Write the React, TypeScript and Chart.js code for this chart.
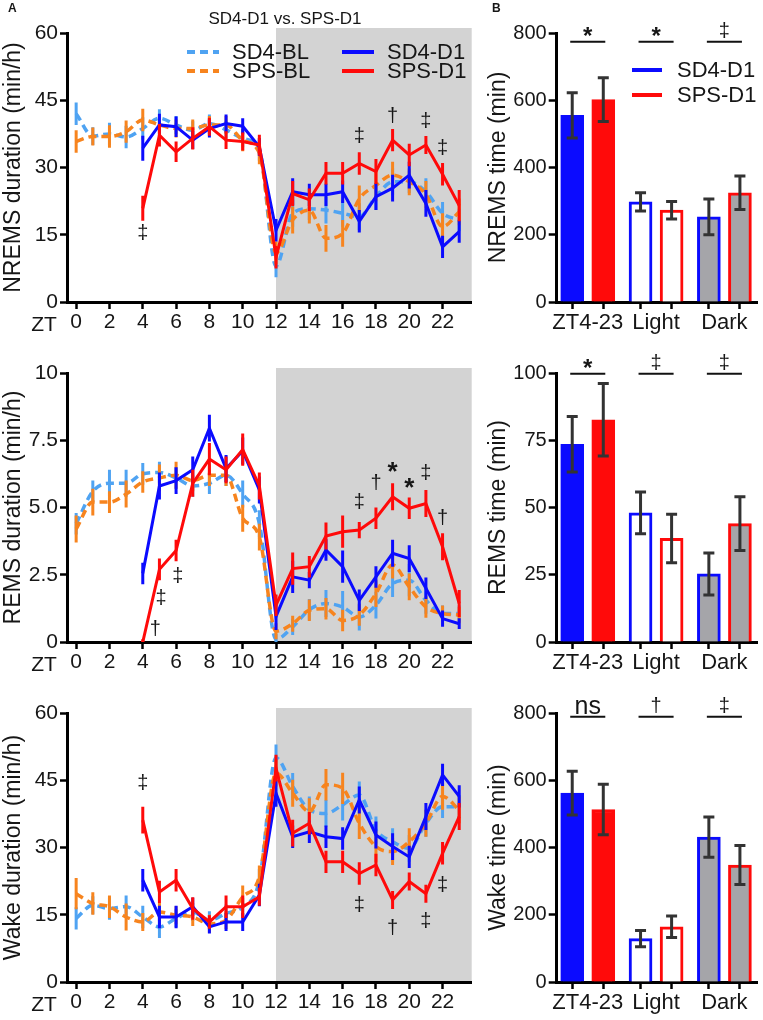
import React, { useEffect, useRef } from 'react';
import { Chart, registerables } from 'chart.js';

Chart.register(...registerables);

const FONT = "'Liberation Sans', Arial, Helvetica, sans-serif";
const BLUE = '#0b0bff';
const RED = '#ff0a0a';
const LBLUE = '#4fa3f2';
const ORANGE = '#f7841e';
const BAND = '#d3d3d3';
const BARGREY = '#a5a5a9';
const ERRGREY = '#333333';
const TEXT = '#161616';

// ---------- hourly data (ZT 0..23) ----------
const hours = [0, 1, 2, 3, 4, 5, 6, 7, 8, 9, 10, 11, 12, 13, 14, 15, 16, 17, 18, 19, 20, 21, 22, 23];
const xTickValues = [0, 2, 4, 6, 8, 10, 12, 14, 16, 18, 20, 22];

// NREMS duration (min/h)
const nremsSD4BL = [42.0, 37.0, 37.5, 36.8, 38.7, 41.0, 39.5, 38.3, 39.8, 38.4, 36.5, 34.0, 8.0, 19.8, 20.8, 20.5, 19.8, 19.0, 23.5, 26.8, 26.8, 24.6, 19.8, 18.3];
const nremsSD4BLErr = [2.5, 2, 2.5, 2.5, 2.5, 2, 2, 2, 2, 2, 2, 2.5, 2.5, 3, 2.5, 3, 3, 3, 3, 3, 2.5, 3, 2.5, 2.5];
const nremsSPSBL = [35.8, 36.9, 36.9, 38.0, 40.6, 39.5, 38.7, 38.7, 39.5, 39.5, 36.1, 33.2, 11.0, 18.3, 20.5, 14.2, 15.3, 23.0, 26.0, 28.3, 26.8, 24.0, 16.8, 20.1];
const nremsSPSBLErr = [2.5, 2, 2.5, 2.5, 2.5, 2, 2, 2, 2, 2, 2.5, 2.5, 2.5, 3, 3, 3, 3, 3, 3.5, 3, 3, 3, 3, 3];
const nremsSD4D1 = [null, null, null, null, 34.3, 39.5, 39.1, 36.1, 38.7, 39.8, 39.2, 34.6, 16.0, 24.6, 23.9, 23.9, 24.6, 18.0, 23.5, 25.4, 28.3, 22.0, 12.3, 15.7];
const nremsSD4D1Err = [null, null, null, null, 2.8, 2.5, 2.3, 2, 2, 2, 1.8, 2, 2.5, 3, 2.5, 2.5, 2.5, 2.5, 3, 3, 3, 3, 2.5, 2.5];
const nremsSPSD1 = [null, null, null, null, 20.9, 37.2, 33.5, 36.5, 39.1, 36.1, 35.8, 35.0, 10.0, 24.2, 22.8, 28.7, 28.7, 30.9, 29.1, 36.1, 32.8, 35.0, 28.5, 21.5];
const nremsSPSD1Err = [null, null, null, null, 2.8, 2.5, 2.3, 2.5, 2, 2, 2, 2.3, 2.5, 2.8, 2.5, 2.5, 2.5, 2.5, 2.8, 2.5, 2.5, 2, 2.5, 3.5];

// REMS duration (min/h)
const remsSD4BL = [4.4, 5.6, 5.9, 5.9, 6.25, 6.3, 6.1, 5.8, 5.9, 6.2, 5.5, 4.4, 0.1, 0.56, 1.2, 1.43, 1.3, 0.93, 1.37, 2.17, 2.3, 1.55, 1.06, 1.06];
const remsSD4BLErr = [0.4, 0.4, 0.5, 0.5, 0.4, 0.4, 0.4, 0.4, 0.4, 0.4, 0.5, 0.5, 0.2, 0.3, 0.4, 0.5, 0.6, 0.5, 0.5, 0.5, 0.6, 0.5, 0.3, 0.3];
const remsSPSBL = [4.2, 5.2, 5.2, 5.5, 5.95, 6.1, 6.2, 6.0, 6.2, 6.2, 4.6, 3.9, 0.4, 0.68, 1.18, 1.24, 0.8, 1.0, 1.8, 2.86, 2.05, 1.3, 1.06, 1.0];
const remsSPSBLErr = [0.5, 0.5, 0.4, 0.5, 0.4, 0.5, 0.5, 0.4, 0.4, 0.4, 0.5, 0.5, 0.3, 0.3, 0.4, 0.4, 0.4, 0.4, 0.5, 0.5, 0.5, 0.4, 0.3, 0.3];
const remsSD4D1 = [null, null, null, null, 2.55, 5.8, 6.0, 6.4, 7.95, 6.45, 7.1, 5.65, 0.95, 2.42, 2.3, 3.42, 2.8, 1.55, 2.42, 3.3, 3.1, 2.0, 0.87, 0.68];
const remsSD4D1Err = [null, null, null, null, 0.4, 0.5, 0.5, 0.5, 0.5, 0.5, 0.5, 0.5, 0.5, 0.6, 0.3, 0.4, 0.6, 0.4, 0.4, 0.5, 0.5, 0.4, 0.3, 0.2];
const remsSPSD1 = [null, null, null, null, 0.0, 2.7, 3.4, 5.9, 6.8, 6.4, 7.15, 5.8, 1.37, 2.73, 2.8, 3.94, 4.1, 4.16, 4.6, 5.4, 4.97, 5.15, 3.54, 1.43];
const remsSPSD1Err = [null, null, null, null, 0.1, 0.4, 0.4, 0.5, 0.6, 0.5, 0.6, 0.5, 0.4, 0.6, 0.4, 0.5, 0.6, 0.3, 0.4, 0.5, 0.4, 0.5, 0.5, 0.5];

// Wake duration (min/h)
const wakeSD4BL = [14.2, 17.1, 16.4, 16.8, 14.5, 12.3, 14.2, 15.6, 13.8, 15.3, 16.8, 22.7, 50.0, 43.6, 38.4, 37.6, 39.5, 41.7, 33.9, 31.3, 29.8, 35.4, 39.1, 39.1];
const wakeSD4BLErr = [2.5, 2, 2.5, 2.5, 2.5, 2.5, 2, 2, 2, 2, 2, 2.5, 3, 3, 3, 3, 3.5, 3, 3, 3, 3, 3, 2.5, 2.5];
const wakeSPSBL = [19.7, 17.5, 16.8, 14.5, 13.4, 15.6, 14.9, 14.5, 13.0, 13.8, 19.0, 23.5, 46.6, 42.1, 38.0, 44.0, 43.2, 35.4, 30.2, 29.1, 31.3, 35.4, 41.4, 38.4];
const wakeSPSBLErr = [3.5, 2.5, 2.5, 3, 2, 2, 2, 2, 2, 2, 2.5, 2.5, 3, 3, 3, 3.5, 3.5, 3.5, 3.5, 3, 3, 3, 3, 3];
const wakeSD4D1 = [null, null, null, null, 22.7, 14.5, 14.5, 16.8, 12.3, 13.4, 13.4, 19.4, 42.1, 32.4, 33.5, 32.4, 32.0, 40.6, 32.8, 30.2, 27.9, 36.9, 46.2, 41.4];
const wakeSD4D1Err = [null, null, null, null, 2.5, 2.5, 2.5, 2, 1.5, 2, 2, 2.5, 3, 2.5, 2.5, 2.5, 2.5, 3, 3, 3, 2.5, 3, 2.5, 2.5];
const wakeSPSD1 = [null, null, null, null, 36.1, 20.1, 22.7, 16.4, 13.4, 16.8, 16.8, 19.0, 47.7, 33.2, 35.4, 26.8, 26.8, 24.2, 26.1, 18.3, 22.4, 19.7, 28.7, 36.9];
const wakeSPSD1Err = [null, null, null, null, 3, 2.5, 2.5, 2.5, 1.5, 2.5, 2.5, 2, 3, 3, 2.5, 2.5, 2.5, 2.5, 2.5, 2, 2, 2, 2.5, 3];

// significance marks on hourly panels: [ZT, level, symbol]
const nremsMarks = [[4, 15.3, '‡'], [17, 36.9, '‡'], [19, 41.3, '†'], [21, 40.2, '‡'], [22, 34.3, '‡']];
const remsMarks = [[4.75, 0.45, '†'], [5.1, 1.6, '‡'], [6.1, 2.42, '‡'], [17, 5.2, '‡'], [18, 5.9, '†'], [19, 6.5, '*'], [20, 5.9, '*'], [21, 6.27, '‡'], [22, 4.6, '†']];
const wakeMarks = [[4, 44.3, '‡'], [17, 17.1, '‡'], [19, 11.9, '†'], [21, 13.4, '‡'], [22, 21.6, '‡']];

// ---------- totals (bar panels) ----------
const barGroups = ['ZT4-23', 'Light', 'Dark'];
const nremsTotSD4 = [555, 298, 253];
const nremsTotSD4Err = [67, 27, 53];
const nremsTotSPS = [602, 273, 325];
const nremsTotSPSErr = [65, 26, 50];
const remsTotSD4 = [73.5, 48, 25.3];
const remsTotSD4Err = [10.3, 7.8, 7.8];
const remsTotSPS = [82.6, 38.5, 44];
const remsTotSPSErr = [13.5, 9, 10];
const wakeTotSD4 = [562, 129, 431];
const wakeTotSD4Err = [65, 24, 60];
const wakeTotSPS = [513, 164, 348];
const wakeTotSPSErr = [75, 32, 58];
const nremsTotSig = ['*', '*', '‡'];
const remsTotSig = ['*', '‡', '‡'];
const wakeTotSig = ['ns', '†', '‡'];

const minTicks = [0, 200, 400, 600, 800];
const remsTotTicks = [0, 25, 50, 75, 100];
const hourTicks60 = [0, 15, 30, 45, 60];
const remsHourTicks = [0, 2.5, 5, 7.5, 10];
const remsHourTickLabels = ['0', '2.5', '5.0', '7.5', '10'];

// ---------- geometry ----------
const LEFT_W = 485;
const RIGHT_X = 485;
const RIGHT_W = 278;
const ROW_H = 340;

function drawSymbol(ctx: CanvasRenderingContext2D, t: string, x: number, y: number, starSize = 26) {
  ctx.save();
  ctx.fillStyle = TEXT;
  ctx.textAlign = 'center';
  ctx.textBaseline = 'middle';
  if (t === '*') {
    ctx.font = `bold ${starSize}px ${FONT}`;
    ctx.fillText(t, x, y + starSize * 0.22);
  } else if (t === 'ns') {
    ctx.font = `25px ${FONT}`;
    ctx.fillText(t, x, y);
  } else {
    ctx.font = `20px ${FONT}`;
    ctx.fillText(t, x, y);
  }
  ctx.restore();
}

type Series = { label: string; values: (number | null)[]; errors: (number | null)[]; color: string; dashed: boolean; order: number };
type LinePanel = { yMax: number; yTicks: number[]; yLabels?: string[]; yTitle: string; series: Series[]; marks: (number | string)[][]; first: boolean };

function lineConfig(p: LinePanel): any {
  const datasets = p.series.map((s) => ({
    label: s.label,
    data: hours.map((h, k) => ({ x: h, y: s.values[k] })),
    errors: s.errors,
    borderColor: s.color,
    backgroundColor: s.color,
    borderWidth: s.dashed ? 3.5 : 3,
    borderDash: s.dashed ? [8, 5] : [],
    cubicInterpolationMode: s.dashed ? 'monotone' : 'default',
    tension: s.dashed ? 0.4 : 0,
    pointRadius: 0,
    fill: false,
    order: s.order,
  }));

  const bandPlugin = {
    id: 'band',
    beforeDraw(chart: any) {
      const { ctx, chartArea, scales } = chart;
      const x0 = scales.x.getPixelForValue(12);
      ctx.save();
      ctx.fillStyle = BAND;
      ctx.fillRect(x0, chartArea.top - 5, chartArea.right - x0, chartArea.bottom - chartArea.top + 5);
      ctx.restore();
    },
  };

  const errPlugin = {
    id: 'errs',
    afterDatasetDraw(chart: any, args: any) {
      const ds = chart.data.datasets[args.index];
      const meta = args.meta;
      const y = chart.scales.y;
      const { ctx, chartArea } = chart;
      ctx.save();
      ctx.beginPath();
      ctx.rect(chartArea.left, chartArea.top - 6, chartArea.right - chartArea.left, chartArea.bottom - chartArea.top + 6);
      ctx.clip();
      ctx.strokeStyle = ds.borderColor;
      ctx.lineWidth = 3;
      ds.data.forEach((d: any, i: number) => {
        const e = ds.errors[i];
        if (d.y == null || e == null) return;
        const px = meta.data[i].x;
        ctx.beginPath();
        ctx.moveTo(px, y.getPixelForValue(d.y + e));
        ctx.lineTo(px, y.getPixelForValue(d.y - e));
        ctx.stroke();
      });
      ctx.restore();
    },
  };

  const textPlugin = {
    id: 'texts',
    afterDraw(chart: any) {
      const { ctx, chartArea, scales } = chart;
      for (const m of p.marks) {
        drawSymbol(ctx, m[2] as string, scales.x.getPixelForValue(m[0] as number), scales.y.getPixelForValue(m[1] as number));
      }
      ctx.save();
      ctx.fillStyle = TEXT;
      ctx.font = `21px ${FONT}`;
      ctx.textAlign = 'center';
      ctx.textBaseline = 'middle';
      ctx.fillText('ZT', 44, chartArea.bottom + 23);
      if (p.first) {
        ctx.font = `bold 12px ${FONT}`;
        ctx.textAlign = 'left';
        ctx.fillText('A', 8, 9);
        ctx.font = `17px ${FONT}`;
        ctx.textAlign = 'center';
        ctx.fillText('SD4-D1 vs. SPS-D1', 285, 19);
        const items = [
          { label: 'SD4-BL', color: LBLUE, dashed: true, x: 187, tx: 232, y: 52 },
          { label: 'SPS-BL', color: ORANGE, dashed: true, x: 187, tx: 232, y: 71 },
          { label: 'SD4-D1', color: BLUE, dashed: false, x: 342, tx: 387, y: 52 },
          { label: 'SPS-D1', color: RED, dashed: false, x: 342, tx: 387, y: 71 },
        ];
        for (const it of items) {
          ctx.strokeStyle = it.color;
          ctx.lineWidth = 4;
          ctx.setLineDash(it.dashed ? [8, 5] : []);
          ctx.beginPath();
          ctx.moveTo(it.x, it.y);
          ctx.lineTo(it.x + 32, it.y);
          ctx.stroke();
          ctx.setLineDash([]);
          ctx.font = `22px ${FONT}`;
          ctx.textAlign = 'left';
          ctx.fillText(it.label, it.tx, it.y + 1);
        }
      }
      ctx.restore();
    },
  };

  return {
    type: 'line',
    data: { datasets },
    plugins: [bandPlugin, errPlugin, textPlugin],
    options: {
      responsive: false,
      animation: false,
      layout: { padding: { top: 33, right: LEFT_W - 471.7, bottom: 0, left: 0 } },
      plugins: { legend: { display: false }, tooltip: { enabled: false }, title: { display: false } },
      scales: {
        x: {
          type: 'linear',
          min: -0.55,
          max: 23.75,
          afterBuildTicks: (s: any) => { s.ticks = xTickValues.map((v) => ({ value: v })); },
          afterFit: (s: any) => { s.height = ROW_H - 302; },
          grid: { drawOnChartArea: false, drawTicks: true, tickLength: 7, tickWidth: 2.5, tickColor: '#000' },
          border: { display: true, color: '#000', width: 3 },
          ticks: { font: { family: FONT, size: 21 }, color: TEXT, padding: 1, maxRotation: 0, autoSkip: false, callback: (v: any) => String(v) },
        },
        y: {
          type: 'linear',
          min: 0,
          max: p.yMax,
          afterBuildTicks: (s: any) => { s.ticks = p.yTicks.map((v) => ({ value: v })); },
          afterFit: (s: any) => { s.width = 67; },
          grid: { drawOnChartArea: false, drawTicks: true, tickLength: 7, tickWidth: 2.5, tickColor: '#000' },
          border: { display: true, color: '#000', width: 3 },
          ticks: {
            font: { family: FONT, size: 21 },
            color: TEXT,
            padding: 2,
            autoSkip: false,
            callback: (v: any) => {
              const i = p.yTicks.indexOf(v);
              return p.yLabels && i >= 0 ? p.yLabels[i] : String(v);
            },
          },
          title: { display: true, text: p.yTitle, color: TEXT, font: { family: FONT, size: 23 }, padding: { top: 0, bottom: 0 } },
        },
      },
    },
  };
}

type BarPanel = { yMax: number; yTicks: number[]; yTitle: string; sd4: number[]; sd4Err: number[]; sps: number[]; spsErr: number[]; sig: string[]; sigLevel: number; first: boolean };

const barPos = (g: number, s: number) => g * 2.2 + s + 0.5;

function barConfig(p: BarPanel): any {
  const mk = (label: string, vals: number[], errs: number[], color: string, s: number) => ({
    label,
    data: vals.map((v, g) => ({ x: barPos(g, s), y: v })),
    errors: errs,
    backgroundColor: [color, '#ffffff', BARGREY],
    borderColor: color,
    borderWidth: 3,
    borderSkipped: 'start',
    barThickness: 23,
    grouped: false,
  });
  const datasets = [mk('SD4-D1', p.sd4, p.sd4Err, BLUE, 0), mk('SPS-D1', p.sps, p.spsErr, RED, 1)];
  const tickVals: number[] = [];
  barGroups.forEach((_, g) => { tickVals.push(barPos(g, 0), barPos(g, 0.5), barPos(g, 1)); });
  const groupCenter = (v: number) => barGroups.findIndex((_, k) => Math.abs(barPos(k, 0.5) - v) < 1e-6);

  const errPlugin = {
    id: 'barErrs',
    afterDatasetDraw(chart: any, args: any) {
      const ds = chart.data.datasets[args.index];
      const y = chart.scales.y;
      const { ctx } = chart;
      ctx.save();
      ctx.strokeStyle = ERRGREY;
      ctx.lineWidth = 3;
      ds.data.forEach((d: any, i: number) => {
        const e = ds.errors[i];
        const px = args.meta.data[i].x;
        const t = y.getPixelForValue(d.y + e);
        const b = y.getPixelForValue(d.y - e);
        ctx.beginPath();
        ctx.moveTo(px, t); ctx.lineTo(px, b);
        ctx.moveTo(px - 5.5, t); ctx.lineTo(px + 5.5, t);
        ctx.moveTo(px - 5.5, b); ctx.lineTo(px + 5.5, b);
        ctx.stroke();
      });
      ctx.restore();
    },
  };

  const textPlugin = {
    id: 'barTexts',
    afterDraw(chart: any) {
      const { ctx, scales } = chart;
      const ly = scales.y.getPixelForValue(p.sigLevel);
      ctx.save();
      ctx.strokeStyle = '#111';
      ctx.lineWidth = 2;
      p.sig.forEach((s, g) => {
        const x1 = scales.x.getPixelForValue(barPos(g, 0));
        const x2 = scales.x.getPixelForValue(barPos(g, 1));
        ctx.beginPath();
        ctx.moveTo(x1 - 2, ly); ctx.lineTo(x2 + 2, ly);
        ctx.stroke();
        drawSymbol(ctx, s, (x1 + x2) / 2, ly - 10, 24);
      });
      if (p.first) {
        ctx.fillStyle = TEXT;
        ctx.font = `bold 12px ${FONT}`;
        ctx.textAlign = 'left';
        ctx.textBaseline = 'middle';
        ctx.fillText('B', 7, 9);
        const items = [
          { label: 'SD4-D1', color: BLUE, y: 70 },
          { label: 'SPS-D1', color: RED, y: 95 },
        ];
        for (const it of items) {
          ctx.strokeStyle = it.color;
          ctx.lineWidth = 4;
          ctx.beginPath();
          ctx.moveTo(147, it.y); ctx.lineTo(177, it.y);
          ctx.stroke();
          ctx.font = `22px ${FONT}`;
          ctx.fillText(it.label, 192, it.y + 1);
        }
      }
      ctx.restore();
    },
  };

  return {
    type: 'bar',
    data: { datasets },
    plugins: [errPlugin, textPlugin],
    options: {
      responsive: false,
      animation: false,
      layout: { padding: { top: 33, right: RIGHT_W - (757 - RIGHT_X), bottom: 0, left: 0 } },
      plugins: { legend: { display: false }, tooltip: { enabled: false }, title: { display: false } },
      scales: {
        x: {
          type: 'linear',
          min: 0,
          max: 6.45,
          offset: false,
          afterBuildTicks: (s: any) => { s.ticks = tickVals.map((v) => ({ value: v })); },
          afterFit: (s: any) => { s.height = ROW_H - 302; },
          grid: {
            offset: false,
            drawOnChartArea: false,
            drawTicks: true,
            tickLength: 7,
            tickWidth: (c: any) => (c.tick && groupCenter(c.tick.value) >= 0 ? 0 : 2.5),
            tickColor: (c: any) => (c.tick && groupCenter(c.tick.value) >= 0 ? 'rgba(0,0,0,0)' : '#000'),
          },
          border: { display: true, color: '#000', width: 3 },
          ticks: {
            font: { family: FONT, size: 22 },
            color: TEXT,
            padding: 1,
            maxRotation: 0,
            autoSkip: false,
            callback: (v: any) => {
              const g = groupCenter(v);
              return g >= 0 ? barGroups[g] : '';
            },
          },
        },
        y: {
          type: 'linear',
          min: 0,
          max: p.yMax,
          afterBuildTicks: (s: any) => { s.ticks = p.yTicks.map((v) => ({ value: v })); },
          afterFit: (s: any) => { s.width = 556.7 - RIGHT_X; },
          grid: { drawOnChartArea: false, drawTicks: true, tickLength: 8, tickWidth: 2.5, tickColor: '#000' },
          border: { display: true, color: '#000', width: 3 },
          ticks: { font: { family: FONT, size: 20 }, color: TEXT, padding: 2, autoSkip: false, callback: (v: any) => String(v) },
          title: { display: true, text: p.yTitle, color: TEXT, font: { family: FONT, size: 23 }, padding: { top: 0, bottom: 0 } },
        },
      },
    },
  };
}

function ChartBox({ config, left, top, width, height }: { config: any; left: number; top: number; width: number; height: number }) {
  const ref = useRef<HTMLCanvasElement | null>(null);
  useEffect(() => {
    if (!ref.current) return;
    const chart = new Chart(ref.current, config);
    return () => chart.destroy();
  }, [config]);
  return (
    <div style={{ position: 'absolute', left, top, width, height }}>
      <canvas ref={ref} width={width} height={height} style={{ width, height, display: 'block' }} />
    </div>
  );
}

const mkSeries = (sd4bl: any, sd4blE: any, spsbl: any, spsblE: any, sd4: any, sd4E: any, sps: any, spsE: any): Series[] => [
  { label: 'SD4-BL', values: sd4bl, errors: sd4blE, color: LBLUE, dashed: true, order: 4 },
  { label: 'SPS-BL', values: spsbl, errors: spsblE, color: ORANGE, dashed: true, order: 3 },
  { label: 'SD4-D1', values: sd4, errors: sd4E, color: BLUE, dashed: false, order: 2 },
  { label: 'SPS-D1', values: sps, errors: spsE, color: RED, dashed: false, order: 1 },
];

const lineCfgs = [
  lineConfig({ yMax: 60, yTicks: hourTicks60, yTitle: 'NREMS duration (min/h)', first: true, marks: nremsMarks,
    series: mkSeries(nremsSD4BL, nremsSD4BLErr, nremsSPSBL, nremsSPSBLErr, nremsSD4D1, nremsSD4D1Err, nremsSPSD1, nremsSPSD1Err) }),
  lineConfig({ yMax: 10, yTicks: remsHourTicks, yLabels: remsHourTickLabels, yTitle: 'REMS duration (min/h)', first: false, marks: remsMarks,
    series: mkSeries(remsSD4BL, remsSD4BLErr, remsSPSBL, remsSPSBLErr, remsSD4D1, remsSD4D1Err, remsSPSD1, remsSPSD1Err) }),
  lineConfig({ yMax: 60, yTicks: hourTicks60, yTitle: 'Wake duration (min/h)', first: false, marks: wakeMarks,
    series: mkSeries(wakeSD4BL, wakeSD4BLErr, wakeSPSBL, wakeSPSBLErr, wakeSD4D1, wakeSD4D1Err, wakeSPSD1, wakeSPSD1Err) }),
];

const barCfgs = [
  barConfig({ yMax: 800, yTicks: minTicks, yTitle: 'NREMS time (min)', sd4: nremsTotSD4, sd4Err: nremsTotSD4Err, sps: nremsTotSPS, spsErr: nremsTotSPSErr, sig: nremsTotSig, sigLevel: 774, first: true }),
  barConfig({ yMax: 100, yTicks: remsTotTicks, yTitle: 'REMS time (min)', sd4: remsTotSD4, sd4Err: remsTotSD4Err, sps: remsTotSPS, spsErr: remsTotSPSErr, sig: remsTotSig, sigLevel: 99.7, first: false }),
  barConfig({ yMax: 800, yTicks: minTicks, yTitle: 'Wake time (min)', sd4: wakeTotSD4, sd4Err: wakeTotSD4Err, sps: wakeTotSPS, spsErr: wakeTotSPSErr, sig: wakeTotSig, sigLevel: 789, first: false }),
];

export default function App() {
  return (
    <div style={{ position: 'absolute', left: 0, top: 0, width: 763, height: 1020, background: '#fff', overflow: 'hidden' }}>
      {lineCfgs.map((c, i) => (
        <ChartBox key={'l' + i} config={c} left={0} top={i * ROW_H} width={LEFT_W} height={ROW_H} />
      ))}
      {barCfgs.map((c, i) => (
        <ChartBox key={'b' + i} config={c} left={RIGHT_X} top={i * ROW_H} width={RIGHT_W} height={ROW_H} />
      ))}
    </div>
  );
}
